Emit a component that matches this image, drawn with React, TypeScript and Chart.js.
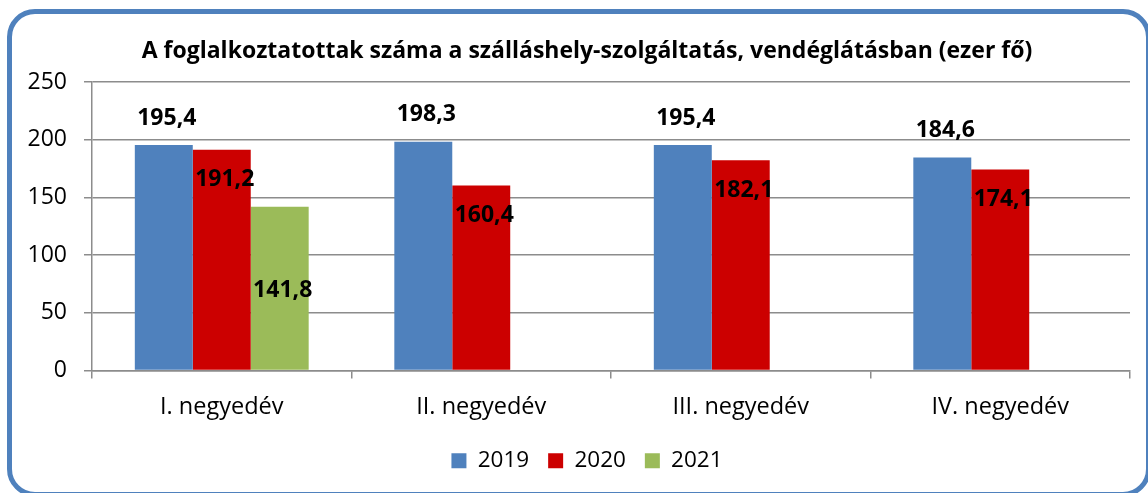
import React, { useEffect, useRef } from "react";
import { Chart, registerables } from "chart.js";

Chart.register(...registerables);

const title = "A foglalkoztatottak száma a szálláshely-szolgáltatás, vendéglátásban (ezer fő)";
const categories = ["I. negyedév", "II. negyedév", "III. negyedév", "IV. negyedév"];
const seriesNames = ["2019", "2020", "2021"];
const values2019 = [195.4, 198.3, 195.4, 184.6];
const values2020 = [191.2, 160.4, 182.1, 174.1];
const values2021 = [141.8, null, null, null];
const yTicks = [0, 50, 100, 150, 200, 250];

const colors = ["#4F81BD", "#CC0000", "#9BBB59"];
const labelOffsets = [-27, 30, 84];
const FONT = "'Open Sans', Lato, sans-serif";

const fmt = (v: number) => v.toFixed(1).replace(".", ",");

const labelPlugin = {
  id: "barLabels",
  afterDraw(chart: any) {
    const ctx = chart.ctx;
    ctx.save();
    ctx.font = `bold 23px ${FONT}`;
    ctx.fillStyle = "#000";
    ctx.textAlign = "center";
    ctx.textBaseline = "middle";
    chart.data.datasets.forEach((ds: any, di: number) => {
      const meta = chart.getDatasetMeta(di);
      meta.data.forEach((bar: any, i: number) => {
        const v = ds.data[i];
        if (v === null || v === undefined) return;
        ctx.fillText(fmt(v), bar.x + 3, bar.y + labelOffsets[di]);
      });
    });
    const ys = chart.scales.y;
    ctx.font = `23px ${FONT}`;
    ctx.textAlign = "right";
    ys.ticks.forEach((t: any) => {
      ctx.fillText(String(t.value), ys.right - 25, ys.getPixelForValue(t.value));
    });
    ctx.restore();
  },
};

export default function App() {
  const ref = useRef<HTMLCanvasElement>(null);
  useEffect(() => {
    if (!ref.current) return;
    const chart = new Chart(ref.current, {
      type: "bar",
      data: {
        labels: categories,
        datasets: [values2019, values2020, values2021].map((d, i) => ({
          label: seriesNames[i],
          data: d,
          backgroundColor: colors[i],
          borderWidth: 0,
          categoryPercentage: 0.67,
          barPercentage: 1,
        })),
      },
      options: {
        responsive: false,
        animation: false,
        layout: { padding: { left: 44, right: 18, top: 28, bottom: 11 } },
        plugins: {
          title: {
            display: true,
            text: title,
            color: "#000",
            font: { family: FONT, size: 23, weight: "bold" },
            padding: { top: 10, bottom: 16.4 },
          },
          legend: {
            position: "bottom",
            labels: {
              boxWidth: 15,
              boxHeight: 15,
              padding: 19,
              color: "#000",
              font: { family: FONT, size: 22.5 },
            },
          },
          tooltip: { enabled: false },
        },
        scales: {
          x: {
            grid: {
              display: true,
              drawOnChartArea: false,
              drawTicks: true,
              tickLength: 8,
              offset: true,
              color: "#8c8c8c",
              lineWidth: 1.5,
            },
            border: { color: "#8c8c8c", width: 1.5 },
            ticks: {
              color: "#000",
              font: { family: FONT, size: 23.5 },
              padding: 15,
            },
            afterFit: (s: any) => {
              s.height = 60;
            },
          },
          y: {
            min: 0,
            max: 250,
            afterBuildTicks: (s: any) => {
              s.ticks = yTicks.map((v) => ({ value: v }));
            },
            grid: {
              color: "#8c8c8c",
              lineWidth: 1.5,
              tickLength: 8,
            },
            border: { color: "#8c8c8c", width: 1.5 },
            ticks: {
              color: "rgba(0,0,0,0)",
              font: { family: FONT, size: 21 },
              padding: 17,
            },
            afterFit: (s: any) => {
              s.width = 48;
            },
          },
        },
      },
      plugins: [labelPlugin],
    });
    return () => chart.destroy();
  }, []);

  return (
    <div
      style={{
        position: "fixed",
        left: 0,
        top: 0,
        width: 1148,
        height: 493,
        overflow: "hidden",
        background: "#fff",
      }}
    >
      <div
        style={{
          position: "absolute",
          left: 7,
          top: 9,
          width: 1144,
          height: 488,
          boxSizing: "border-box",
          border: "5px solid #4F81BD",
          borderRadius: 28,
        }}
      />
      <canvas
        ref={ref}
        width={1148}
        height={493}
        style={{ position: "absolute", left: 0, top: 0 }}
      />
    </div>
  );
}
